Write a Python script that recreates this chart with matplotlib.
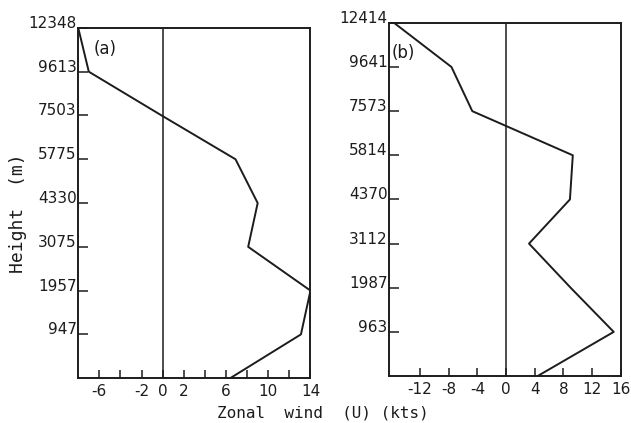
import numpy as np
import matplotlib
matplotlib.use('Agg')
import matplotlib.pyplot as plt

# level labels (surface first is unlabeled), winds in kts from surface upward
heights_a = ['947', '1957', '3075', '4330', '5775', '7503', '9613', '12348']
wind_a = [6.4, 13.1, 14.0, 8.1, 9.0, 6.9, -0.1, -7.0, -8.0]
heights_b = ['963', '1987', '3112', '4370', '5814', '7573', '9641', '12414']
wind_b = [4.4, 15.0, 9.0, 3.2, 8.9, 9.3, -4.7, -7.6, -15.6]

xticks_a = [-6, -4, -2, 0, 2, 4, 6, 8, 10, 12, 14]
xlabels_a = ['-6', '', '-2', '0', '2', '', '6', '', '10', '', '14']
xticks_b = [-12, -8, -4, 0, 4, 8, 12, 16]
xlabels_b = ['-12', '-8', '-4', '0', '4', '8', '12', '16']

ink = '#1c1c1c'
plt.rcParams['font.family'] = 'DejaVu Sans'

fig = plt.figure(figsize=(6.31, 4.23), dpi=100)
ax1 = fig.add_axes([0.124, 0.106, 0.368, 0.828])
ax2 = fig.add_axes([0.6165, 0.111, 0.3675, 0.835])


def panel(ax, heights, wind, xlim, xticks, xlabels, tag, tagpos):
    lev = np.arange(len(wind))
    ax.plot(wind, lev, color=ink, lw=1.4)
    ax.axvline(0, color=ink, lw=1.1)
    ax.set_xlim(*xlim)
    ax.set_ylim(0, len(wind) - 1)
    ax.set_yticks(lev[1:])
    ax.set_yticklabels(heights)
    ax.set_xticks(xticks)
    ax.set_xticklabels(xlabels)
    ax.tick_params(axis='y', direction='in', length=7, width=1.1, pad=1,
                   labelsize=11, colors=ink)
    ax.tick_params(axis='x', direction='in', length=5.5, width=1.1, pad=4,
                   labelsize=11, colors=ink)
    for t in ax.get_yticklabels():
        t.set_verticalalignment('baseline')
    for s in ax.spines.values():
        s.set_linewidth(1.4)
        s.set_color(ink)
    ax.text(tagpos[0], tagpos[1], tag, transform=ax.transAxes, fontsize=12,
            color=ink, ha='left', va='center')


panel(ax1, heights_a, wind_a, (-8.0, 14.0), xticks_a, xlabels_a, '(a)', (0.065, 0.94))
panel(ax2, heights_b, wind_b, (-16.3, 16.0), xticks_b, xlabels_b, '(b)', (0.01, 0.915))

fig.text(0.029, 0.495, 'Height  (m)', rotation=90, ha='center', va='center',
         fontsize=13, color=ink, family='DejaVu Sans Mono')
fig.text(0.512, 0.024, 'Zonal  wind  (U) (kts)', ha='center', va='center',
         fontsize=11.5, color=ink, family='DejaVu Sans Mono')

fig.savefig('out.png', dpi=100)
